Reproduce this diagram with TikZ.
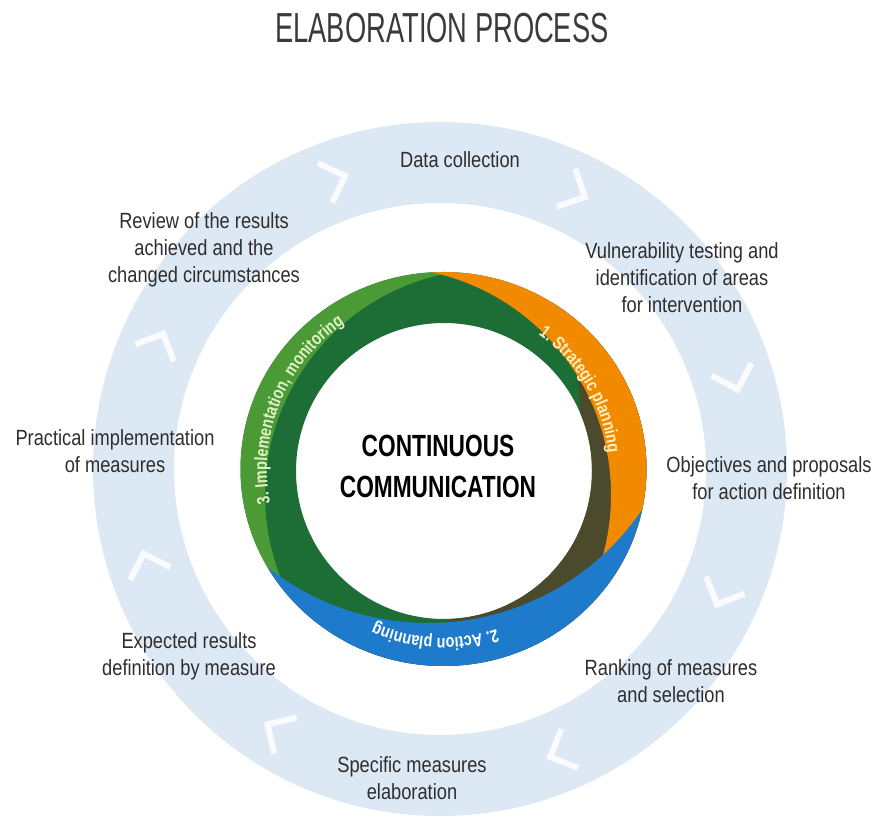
\documentclass[tikz,border=0pt]{standalone}
\usepackage{fontspec}
\setmainfont{Liberation Sans}[FakeStretch=0.83]
\newfontfamily\titlefont{Liberation Sans}[FakeStretch=0.65]
\newfontfamily\centrefont{Liberation Sans}[FakeStretch=0.74]
\newfontfamily\ringfont{Liberation Sans}[FakeStretch=0.8]
\usetikzlibrary{decorations.text}

\definecolor{ringblue}{HTML}{DDE8F5}
\definecolor{txtgray}{HTML}{2E2E2E}
\definecolor{titlegray}{HTML}{3A3A3A}
\definecolor{lightgreen}{HTML}{4B9A35}
\definecolor{darkgreen}{HTML}{1D6D37}
\definecolor{orangec}{HTML}{F28A00}
\definecolor{olivec}{HTML}{4B4A2C}
\definecolor{bluec}{HTML}{1E7BCC}
\definecolor{greentxt}{HTML}{E2F2C8}
\definecolor{orangetxt}{HTML}{FFEFC0}

\tikzset{x=0.75pt, y=0.75pt,    % one unit = one pixel of the drawing
    steplabel/.style={          % texts round the outer cycle
        font=\fontsize{16.5}{20.25}\selectfont,
        text=txtgray,
        align=center},
    chevron/.style={            % white arrows in the outer cycle
        draw=white,
        draw opacity=0.85,
        line width=4.5pt},
    ringtext/.style 2 args={    % labels written along the coloured rings
        decorate,
        decoration={text along path, text align=center,
            text={|\ringfont\bfseries\fontsize{13.5}{13.5}\selectfont\color{#1}|#2}}}}

\begin{document}
\begin{tikzpicture}
    \useasboundingbox (0,0) rectangle (874,818);

    % outer cycle
    \fill[ringblue, even odd rule] (440,349) circle[radius=347] (440,349) circle[radius=266];
    \begin{scope}[shift={(440,349)}]
        \foreach \a in {156,110,64,17,-24,-67,-122,-162}
            \draw[chevron, shift={(\a:308)}, rotate=\a-90] (-10,21) -- (11,0) -- (-10,-21);
    \end{scope}

    % three overlapping rings
    \begin{scope}[even odd rule]
        \clip (443.5,349) ellipse[x radius=203, y radius=197] (444,347) circle[radius=148];
        \fill[darkgreen] (230,140) rectangle (660,560);
        \fill[olivec] (230,140) rectangle (660,560) (350,406) circle[radius=230];
        \fill[lightgreen] (230,140) rectangle (660,560) (491,323) circle[radius=226];
        \fill[orangec] (230,140) rectangle (660,560) (383,323) circle[radius=228];
        \fill[bluec] (230,140) rectangle (660,560) (428,454) circle[radius=259];
    \end{scope}

    \path[ringtext={greentxt}{3. Implementation, monitoring}]
        ([shift={(205:177)}]444,348) arc[start angle=205, end angle=110, radius=177];
    \path[ringtext={orangetxt}{1. Strategic planning}]
        ([shift={(75:165)}]444,348) arc[start angle=75, end angle=-14, radius=165];
    \path[ringtext={white}{2. Action planning}]
        ([shift={(-48:168)}]444,348) arc[start angle=-48, end angle=-138, radius=168];

    \node[font=\titlefont\fontsize{31.5}{36}\selectfont, text=titlegray] (title) at (442,790) {ELABORATION PROCESS};
    \node[font=\centrefont\bfseries\fontsize{23}{30.75}\selectfont, align=center] (centre) at (438,352) {CONTINUOUS\\COMMUNICATION};

    \node[steplabel] (datacoll) at (460,658) {Data collection};
    \node[steplabel] (vulnerab) at (682,540) {Vulnerability testing and\\identification of areas\\for intervention};
    \node[steplabel] (objectiv) at (769,340) {Objectives and proposals\\for action definition};
    \node[steplabel] (ranking) at (671,137) {Ranking of measures\\and selection};
    \node[steplabel] (specific) at (412,40) {Specific measures\\elaboration};
    \node[steplabel] (expected) at (189,162) {Expected results\\definition by measure};
    \node[steplabel] (practical) at (115,367) {Practical implementation\\of measures};
    \node[steplabel] (review) at (204,568) {Review of the results\\achieved and the\\changed circumstances};
\end{tikzpicture}
\end{document}
